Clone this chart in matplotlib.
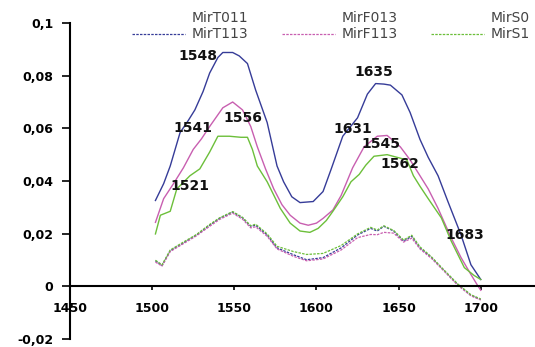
import matplotlib.pyplot as plt
import matplotlib.ticker as mticker

plt.rcParams['font.family'] = ['DejaVu Sans']

# solid spectra
x_t011 = [1502, 1507, 1511, 1517, 1522, 1526, 1531, 1535, 1540, 1543, 1549, 1553, 1558, 1563,
          1570, 1576, 1580, 1585, 1590, 1598, 1604, 1609, 1616, 1625, 1631, 1636, 1641, 1645,
          1652, 1657, 1663, 1668, 1674, 1680, 1688, 1694, 1700]
y_t011 = [0.0326, 0.039, 0.0457, 0.0584, 0.063, 0.067, 0.074, 0.081, 0.0869, 0.0888, 0.0888,
          0.0875, 0.0846, 0.0745, 0.0622, 0.0457, 0.0397, 0.034, 0.0318, 0.0322, 0.036, 0.0446,
          0.057, 0.064, 0.073, 0.077, 0.0768, 0.0764, 0.0727, 0.066, 0.0558, 0.049, 0.042,
          0.0322, 0.0195, 0.0082, 0.0026]

x_f013 = [1502, 1507, 1513, 1519, 1525, 1530, 1535, 1543, 1549, 1555, 1560, 1564, 1569, 1574,
          1579, 1584, 1590, 1595, 1600, 1604, 1610, 1615, 1622, 1629, 1637, 1643, 1651, 1657,
          1663, 1668, 1674, 1682, 1688, 1694, 1698, 1700]
y_f013 = [0.0243, 0.0333, 0.039, 0.045, 0.052, 0.056, 0.0607, 0.0678, 0.070, 0.067, 0.0607,
          0.053, 0.0446, 0.037, 0.031, 0.027, 0.024, 0.0232, 0.024, 0.0258, 0.029, 0.0345,
          0.045, 0.053, 0.057, 0.0573, 0.053, 0.048, 0.042, 0.037, 0.0296, 0.0184, 0.0109,
          0.0045, 0.0004, -0.0015]

x_s0 = [1502, 1505, 1511, 1515, 1523, 1529, 1535, 1540, 1547, 1554, 1558, 1561, 1564, 1570,
        1578, 1584, 1590, 1596, 1601, 1606, 1610, 1616, 1621, 1626, 1630, 1635, 1643, 1649,
        1655, 1659, 1663, 1668, 1676, 1682, 1690, 1696, 1700]
y_s0 = [0.0199, 0.027, 0.0285, 0.037, 0.042, 0.0446, 0.051, 0.057, 0.057, 0.0566, 0.0566,
        0.052, 0.0457, 0.0397, 0.0296, 0.024, 0.021, 0.0205, 0.022, 0.025, 0.0285, 0.034,
        0.0397, 0.0425, 0.046, 0.0494, 0.050, 0.049, 0.048, 0.042, 0.038, 0.0333, 0.026,
        0.0172, 0.0071, 0.0041, 0.0026]

# dashed spectra (share the same wavenumbers)
x_low = [1502, 1506, 1511, 1519, 1527, 1535, 1541, 1549, 1555, 1560, 1563, 1570, 1576, 1586,
         1594, 1604, 1615, 1625, 1633, 1637, 1641, 1647, 1653, 1658, 1663, 1670, 1677, 1686,
         1694, 1700]
y_t113 = [0.0097, 0.0079, 0.0135, 0.0165, 0.0195, 0.0232, 0.0258, 0.0282, 0.026, 0.0228,
          0.0232, 0.0195, 0.0146, 0.012, 0.0101, 0.0109, 0.0146, 0.0195, 0.022, 0.021, 0.0228,
          0.021, 0.0172, 0.019, 0.0146, 0.0109, 0.0064, 0.0007, -0.0034, -0.005]
y_f113 = [0.0092, 0.0077, 0.0132, 0.0162, 0.0192, 0.0228, 0.0254, 0.0278, 0.0255, 0.0222,
          0.0226, 0.019, 0.0142, 0.0114, 0.0097, 0.0104, 0.0138, 0.0185, 0.0197, 0.0196,
          0.0205, 0.0202, 0.0168, 0.0183, 0.0142, 0.0106, 0.0062, 0.0004, -0.0036, -0.0052]
y_s1 = [0.0099, 0.0082, 0.0138, 0.0168, 0.0197, 0.0235, 0.026, 0.0284, 0.0262, 0.023, 0.0236,
        0.0199, 0.0152, 0.0132, 0.0121, 0.0125, 0.0155, 0.0199, 0.0224, 0.0214, 0.023, 0.0212,
        0.0176, 0.0194, 0.015, 0.0112, 0.0066, 0.0009, -0.0032, -0.0048]

peak_labels = ['1548', '1541', '1556', '1521', '1635', '1631', '1545', '1562', '1683']
peak_x = [1528, 1525, 1555.5, 1523, 1635, 1622, 1639, 1651, 1690]
peak_y = [0.0876, 0.0603, 0.064, 0.0382, 0.0813, 0.0596, 0.054, 0.0464, 0.0195]

blue, pink, green = '#363c98', '#c85fb0', '#6cbf3a'

fig = plt.figure(figsize=(5.35, 3.47), dpi=100)
ax = fig.add_axes([70 / 535, 8 / 347, 465 / 535, 316 / 347])

l1, = ax.plot(x_t011, y_t011, color=blue, lw=1.0, label='MirT011')
l2, = ax.plot(x_low, y_t113, color=blue, lw=0.9, ls=(0, (2, 1)), label='MirT113')
l3, = ax.plot(x_f013, y_f013, color=pink, lw=1.0, label='MirF013')
l4, = ax.plot(x_low, y_f113, color=pink, lw=0.9, ls=(0, (2, 1)), label='MirF113')
l5, = ax.plot(x_s0, y_s0, color=green, lw=1.0, label='MirS0')
l6, = ax.plot(x_low, y_s1, color=green, lw=0.9, ls=(0, (2, 1)), label='MirS1')

for lab, px, py in zip(peak_labels, peak_x, peak_y):
    ax.text(px, py, lab, ha='center', va='center', fontsize=10, fontweight='bold', color='#111111')

ax.set_xlim(1450, 1733)
ax.set_ylim(-0.02, 0.1)
ax.spines['top'].set_visible(False)
ax.spines['right'].set_visible(False)
ax.spines['bottom'].set_position(('data', 0))
ax.spines['bottom'].set_linewidth(1.5)
ax.spines['left'].set_linewidth(1.5)

ax.set_xticks([1450, 1500, 1550, 1600, 1650, 1700])
yt = [-0.02, 0, 0.02, 0.04, 0.06, 0.08, 0.1]
ax.set_yticks(yt)
ax.yaxis.set_major_formatter(mticker.FixedFormatter(['-0,02', '0', '0,02', '0,04', '0,06', '0,08', '0,1']))
ax.tick_params(axis='x', direction='out', length=3, width=1.2, pad=8, labelsize=9)
ax.tick_params(axis='y', direction='out', length=6, width=1.2, pad=6, labelsize=9)
for t in ax.get_xticklabels() + ax.get_yticklabels():
    t.set_fontweight('bold')

leg = fig.legend([l1, l2, l3, l4, l5, l6],
                 ['MirT011', 'MirT113', 'MirF013', 'MirF113', 'MirS0', 'MirS1'],
                 ncol=3, frameon=False, loc='upper left', bbox_to_anchor=(124 / 535, 1 - 3 / 347),
                 fontsize=10, handlelength=3.8, handletextpad=0.5, columnspacing=2.4,
                 labelspacing=0.15, borderaxespad=0.2)
for t in leg.get_texts():
    t.set_color('#444444')
# solid-line samples are not shown in the original legend
for i in (0, 2, 4):
    leg.legend_handles[i].set_visible(False)

fig.savefig('out.png', dpi=100)
